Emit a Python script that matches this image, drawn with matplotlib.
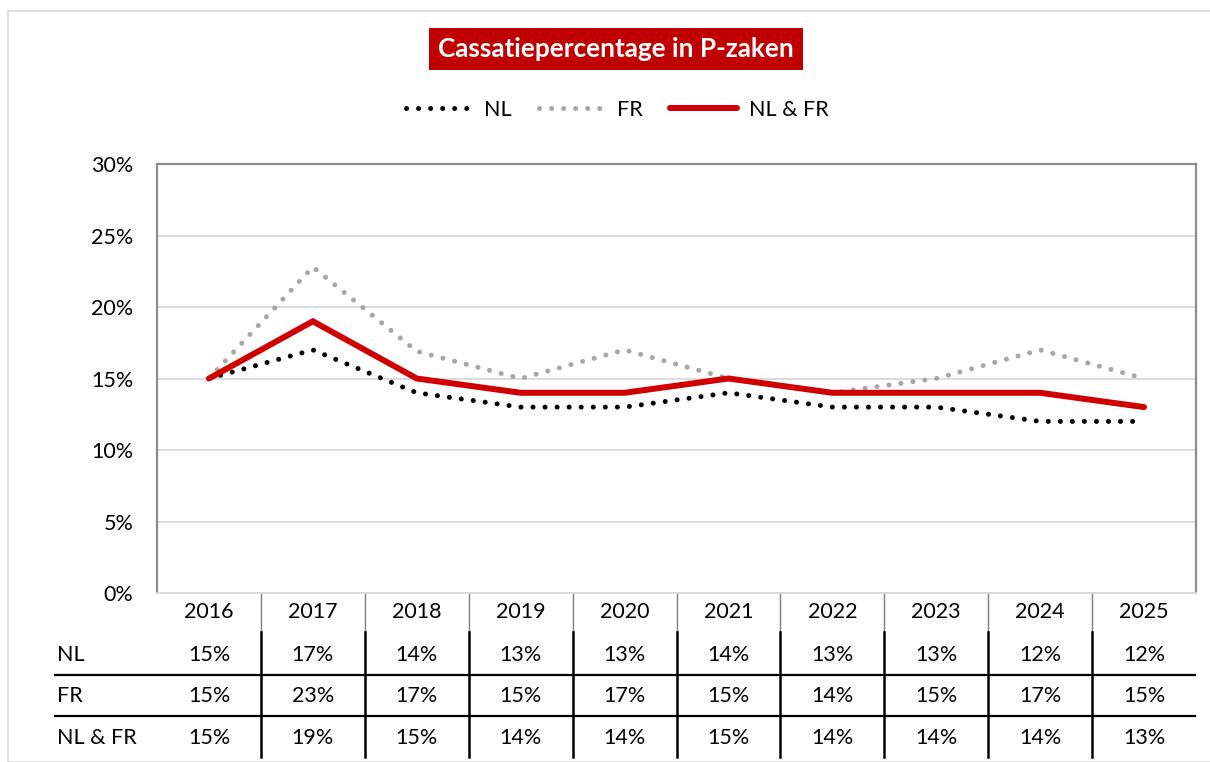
import matplotlib
matplotlib.use("Agg")
import matplotlib.pyplot as plt
from matplotlib.lines import Line2D
from matplotlib.patches import Rectangle
import numpy as np

years = ["2016", "2017", "2018", "2019", "2020", "2021", "2022", "2023", "2024", "2025"]
nl = [15, 17, 14, 13, 13, 14, 13, 13, 12, 12]
fr = [15, 22.8, 16.9, 15, 17, 15, 14, 15, 17, 15]
nlfr = [15, 19, 15, 14, 14, 15, 14, 14, 14, 13]
nl_lbl = ["15%", "17%", "14%", "13%", "13%", "14%", "13%", "13%", "12%", "12%"]
fr_lbl = ["15%", "23%", "17%", "15%", "17%", "15%", "14%", "15%", "17%", "15%"]
nlfr_lbl = ["15%", "19%", "15%", "14%", "14%", "15%", "14%", "14%", "14%", "13%"]
yticks = [0, 5, 10, 15, 20, 25, 30]
ytick_labels = ["0%", "5%", "10%", "15%", "20%", "25%", "30%"]
title = "Cassatiepercentage in P-zaken"

plt.rcParams['font.family'] = ['Lato', 'DejaVu Sans']
FS = 15.5
W, H = 1210, 762
fig = plt.figure(figsize=(W / 100, H / 100), dpi=100)

# outer border
fig.patches.append(Rectangle((8 / W, 0), 1.2, 1 - 11 / H, transform=fig.transFigure,
                             fill=False, edgecolor='#D9D9D9', linewidth=1.2))

L, R, T, B = 157, 1196, 164, 593
ax = fig.add_axes([L / W, 1 - B / H, (R - L) / W, (B - T) / H])
x = np.arange(len(years))
ax.set_xlim(-0.5, len(years) - 0.5)
ax.set_ylim(0, 30)
ax.set_yticks(yticks)
ax.set_yticklabels(ytick_labels, fontsize=FS)
ax.tick_params(axis='y', length=0, pad=17)
ax.set_xticks([])
ax.grid(axis='y', color='#D9D9D9', linewidth=1.3)
ax.set_axisbelow(True)
for s in ['left', 'top', 'right']:
    ax.spines[s].set_color('#8C8C8C')
    ax.spines[s].set_linewidth(1.6)
ax.spines['bottom'].set_color('#D9D9D9')
ax.spines['bottom'].set_linewidth(1.3)

l1, = ax.plot(x, nl, color='black', linewidth=3.6, linestyle=(0, (0.01, 2.4)),
              dash_capstyle='round', label='NL')
l2, = ax.plot(x, fr, color='#A6A6A6', linewidth=3.6, linestyle=(0, (0.01, 2.4)),
              dash_capstyle='round', label='FR')
l3, = ax.plot(x, nlfr, color='#D00000', linewidth=4.3, solid_capstyle='round',
              solid_joinstyle='miter', label='NL & FR')

fig.legend(handles=[l1, l2, l3], loc='center', bbox_to_anchor=(617 / W, 1 - 110 / H),
           ncol=3, frameon=False, fontsize=FS, handlelength=3.1, handletextpad=0.55,
           columnspacing=1.25)

fig.text(616 / W, 1 - 49 / H, title, ha='center', va='center', fontsize=18.8,
         fontweight='bold', color='white',
         bbox=dict(boxstyle='square,pad=0.36', facecolor='#C00000', edgecolor='none'))

# data table below the axes
tr = ax.get_xaxis_transform()
h = B - T
def ay(py):
    return (B - py) / h

for i in range(len(years)):
    ax.text(x[i], ay(612), years[i], transform=tr, ha='center', va='center', fontsize=FS)
    ax.text(x[i], ay(655), nl_lbl[i], transform=tr, ha='center', va='center', fontsize=FS)
    ax.text(x[i], ay(696), fr_lbl[i], transform=tr, ha='center', va='center', fontsize=FS)
    ax.text(x[i], ay(738), nlfr_lbl[i], transform=tr, ha='center', va='center', fontsize=FS)

for i in range(len(years) - 1):
    xb = x[i] + 0.5
    ax.add_line(Line2D([xb, xb], [ay(593), ay(632)], transform=tr, color='#7F7F7F',
                       linewidth=1.0, clip_on=False))
    ax.add_line(Line2D([xb, xb], [ay(632), ay(757)], transform=tr, color='black',
                       linewidth=1.8, clip_on=False))

for py in [675, 716]:
    fig.add_artist(Line2D([55 / W, 1195 / W], [1 - py / H, 1 - py / H],
                          transform=fig.transFigure, color='black', linewidth=1.6))

for py, lab in [(655, "NL"), (696, "FR"), (738, "NL & FR")]:
    fig.text(57 / W, 1 - py / H, lab, ha='left', va='center', fontsize=FS)

fig.savefig("out.png", dpi=100)
